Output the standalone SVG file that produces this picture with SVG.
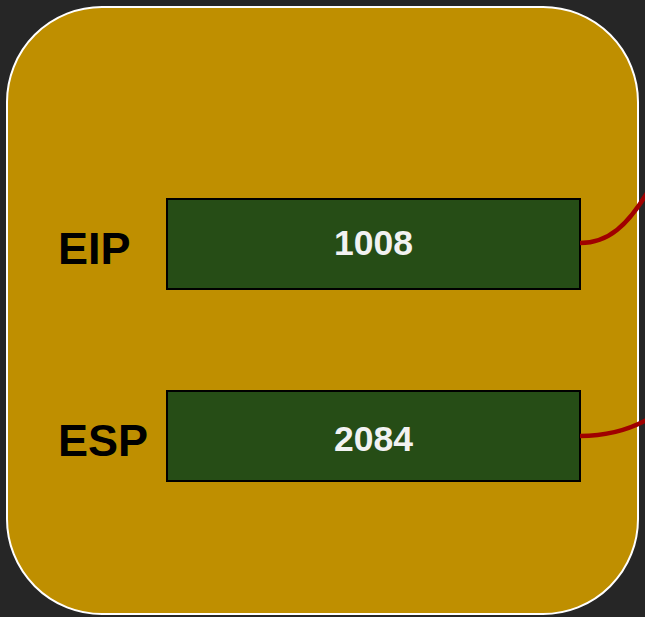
<svg xmlns="http://www.w3.org/2000/svg" width="645" height="617" viewBox="0 0 645 617">
<style>
.reg{fill:#264D16;stroke:#000;stroke-width:2}
.val{font-family:"Liberation Sans",Arial,sans-serif;font-weight:bold;font-size:35.5px;fill:#F2F2F2;text-anchor:middle}
.lbl{font-family:"Liberation Sans",Arial,sans-serif;font-weight:bold;font-size:45px;fill:#000}
.wire{fill:none;stroke:#A00000;stroke-width:4.5}
</style>
<rect x="0" y="0" width="645" height="617" fill="#262626"/>
<g id="cpu">
<rect x="7" y="7" width="631" height="607" rx="95" ry="95" fill="#BF8F00" stroke="#FFFFFF" stroke-width="2"/>
</g>
<g id="eip">
<rect class="reg" x="167" y="199" width="413" height="90"/>
<text class="val" x="373.5" y="255">1008</text>
<text class="lbl" x="58" y="264">EIP</text>
</g>
<g id="esp">
<rect class="reg" x="167" y="391" width="413" height="90"/>
<text class="val" x="373.5" y="451">2084</text>
<text class="lbl" x="58" y="456">ESP</text>
</g>
<g id="connectors">
<path class="wire" d="M580,243 C608,243 628,226 650,188"/>
<path class="wire" d="M580,436 C602,436 626,432 650,418"/>
</g>
</svg>
